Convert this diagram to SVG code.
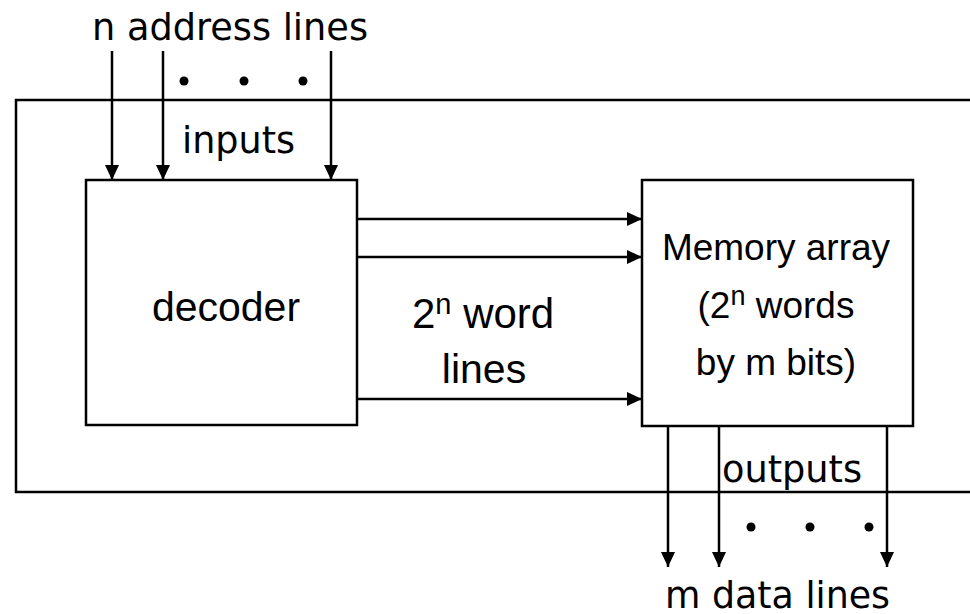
<svg xmlns="http://www.w3.org/2000/svg" width="970" height="614" viewBox="0 0 970 614">
<style>
.box{fill:#fff;stroke:#000;stroke-width:2.5}
.ln{stroke:#000;stroke-width:2.5;fill:none}
.arr{stroke:#000;stroke-width:2.5;fill:none;marker-end:url(#ah)}
.t{font-family:"DejaVu Sans","Liberation Sans",sans-serif;font-size:38px;fill:#000}
.a{font-family:"Liberation Sans",Arial,sans-serif;fill:#000}
.dot{fill:#000}
</style>
<defs>
<marker id="ah" markerUnits="userSpaceOnUse" markerWidth="16" markerHeight="14" refX="15" refY="7" orient="auto">
<path d="M0,0 L15,7 L0,14 Z" fill="#000"/>
</marker>
</defs>
<g id="outer">
<path class="ln" d="M972,100 H16 V492 H972"/>
</g>
<g id="decoder">
<rect class="box" x="86" y="180" width="271" height="245"/>
<text class="a" x="226" y="321" font-size="41" text-anchor="middle">decoder</text>
</g>
<g id="memory">
<rect class="box" x="642" y="180" width="271" height="246"/>
<text class="a" x="776" y="260" font-size="37" text-anchor="middle">Memory array</text>
<text class="a" x="776" y="318" font-size="37" text-anchor="middle">(2<tspan font-size="27" dy="-13">n</tspan><tspan dy="13"> words</tspan></text>
<text class="a" x="776" y="375" font-size="37" text-anchor="middle">by m bits)</text>
</g>
<g id="connectors">
<line class="arr" x1="112" y1="51" x2="112" y2="180"/>
<line class="arr" x1="163" y1="51" x2="163" y2="180"/>
<line class="arr" x1="331" y1="51" x2="331" y2="180"/>
<line class="arr" x1="357" y1="219" x2="642" y2="219"/>
<line class="arr" x1="357" y1="257" x2="642" y2="257"/>
<line class="arr" x1="357" y1="399" x2="642" y2="399"/>
<line class="arr" x1="668" y1="426" x2="668" y2="567"/>
<line class="arr" x1="719" y1="426" x2="719" y2="567"/>
<line class="arr" x1="887" y1="426" x2="887" y2="567"/>
</g>
<g id="labels">
<text class="t" x="92" y="40" textLength="276" lengthAdjust="spacingAndGlyphs">n address lines</text>
<circle class="dot" cx="184" cy="81" r="4.5"/>
<circle class="dot" cx="244" cy="81" r="4.5"/>
<circle class="dot" cx="303" cy="81" r="4.5"/>
<text class="t" x="182" y="153" textLength="113" lengthAdjust="spacingAndGlyphs">inputs</text>
<text class="a" x="412" y="328" font-size="42">2<tspan font-size="29" dy="-14">n</tspan><tspan dy="14"> word</tspan></text>
<text class="a" x="484" y="383" font-size="41" text-anchor="middle">lines</text>
<text class="t" x="722" y="482" textLength="140" lengthAdjust="spacingAndGlyphs">outputs</text>
<circle class="dot" cx="751" cy="527" r="4.5"/>
<circle class="dot" cx="810" cy="527" r="4.5"/>
<circle class="dot" cx="869" cy="527" r="4.5"/>
<text class="t" x="665" y="608" textLength="225" lengthAdjust="spacingAndGlyphs">m data lines</text>
</g>
</svg>
